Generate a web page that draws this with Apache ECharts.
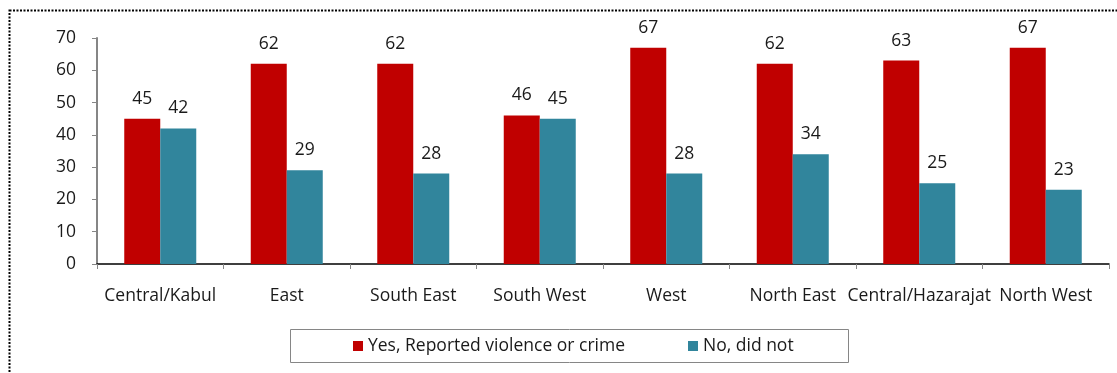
<!DOCTYPE html>
<html>
<head>
<meta charset="utf-8">
<script src="https://cdn.jsdelivr.net/npm/echarts@6/dist/echarts.min.js"></script>
<style>
  html, body { margin: 0; padding: 0; background: #ffffff; }
  #chart { width: 1117px; height: 373px; }
</style>
</head>
<body>
<div id="chart"></div>
<script>
// Regions surveyed
const regions = ['Central/Kabul', 'East', 'South East', 'South West', 'West', 'North East', 'Central/Hazarajat', 'North West'];
// Percent of respondents per answer
const yesReported = [45, 62, 62, 46, 67, 62, 63, 67];
const noDidNot = [42, 29, 28, 45, 28, 34, 25, 23];
const seriesNames = ['Yes, Reported violence or crime', 'No, did not'];
const yTicks = { min: 0, max: 70, interval: 10 };

const FONT = '"Open Sans", "Noto Sans", sans-serif';
const TEXT = '#1a1a1a';
const FS = 17.5;

const chart = echarts.init(document.getElementById('chart'), null, { renderer: 'canvas' });

const labelStyle = {
  show: true,
  position: 'top',
  distance: 11,
  color: TEXT,
  fontFamily: FONT,
  fontSize: FS
};

chart.setOption({
  animation: false,
  backgroundColor: '#ffffff',
  textStyle: { fontFamily: FONT, color: TEXT },
  grid: { left: 97, right: 8, top: 38, bottom: 109, containLabel: false },
  graphic: [
    {
      // dotted frame around the chart area
      type: 'rect',
      silent: true,
      shape: { x: 9.5, y: 10.5, width: 1200, height: 400 },
      style: { fill: 'none', stroke: '#000000', lineWidth: 2, lineDash: [2, 1.5] }
    },
    {
      // legend frame
      type: 'rect',
      silent: true,
      shape: { x: 290.5, y: 329.5, width: 558, height: 33 },
      style: { fill: 'none', stroke: '#868686', lineWidth: 1 }
    }
  ],
  legend: {
    left: 353,
    top: 337,
    padding: 0,
    itemWidth: 10,
    itemHeight: 10,
    itemGap: 63,
    icon: 'rect',
    textStyle: { fontFamily: FONT, fontSize: FS, color: TEXT },
    data: seriesNames
  },
  xAxis: {
    type: 'category',
    data: regions,
    axisLine: { lineStyle: { color: '#000000', width: 1.5 } },
    axisTick: { show: true, length: 5, alignWithLabel: false, lineStyle: { color: '#868686' } },
    axisLabel: { color: TEXT, fontFamily: FONT, fontSize: FS, margin: 23, interval: 0 }
  },
  yAxis: {
    type: 'value',
    min: yTicks.min,
    max: yTicks.max,
    interval: yTicks.interval,
    axisLine: { show: true, lineStyle: { color: '#868686', width: 2 } },
    axisTick: { show: true, length: 5, lineStyle: { color: '#868686' } },
    splitLine: { show: false },
    axisLabel: { color: TEXT, fontFamily: FONT, fontSize: FS, margin: 21 }
  },
  series: [
    {
      name: seriesNames[0],
      type: 'bar',
      data: yesReported,
      barWidth: 36,
      barGap: '0%',
      itemStyle: { color: '#C00000' },
      label: labelStyle
    },
    {
      name: seriesNames[1],
      type: 'bar',
      data: noDidNot,
      barWidth: 36,
      barGap: '0%',
      itemStyle: { color: '#31859C' },
      label: labelStyle
    }
  ]
});
</script>
</body>
</html>
